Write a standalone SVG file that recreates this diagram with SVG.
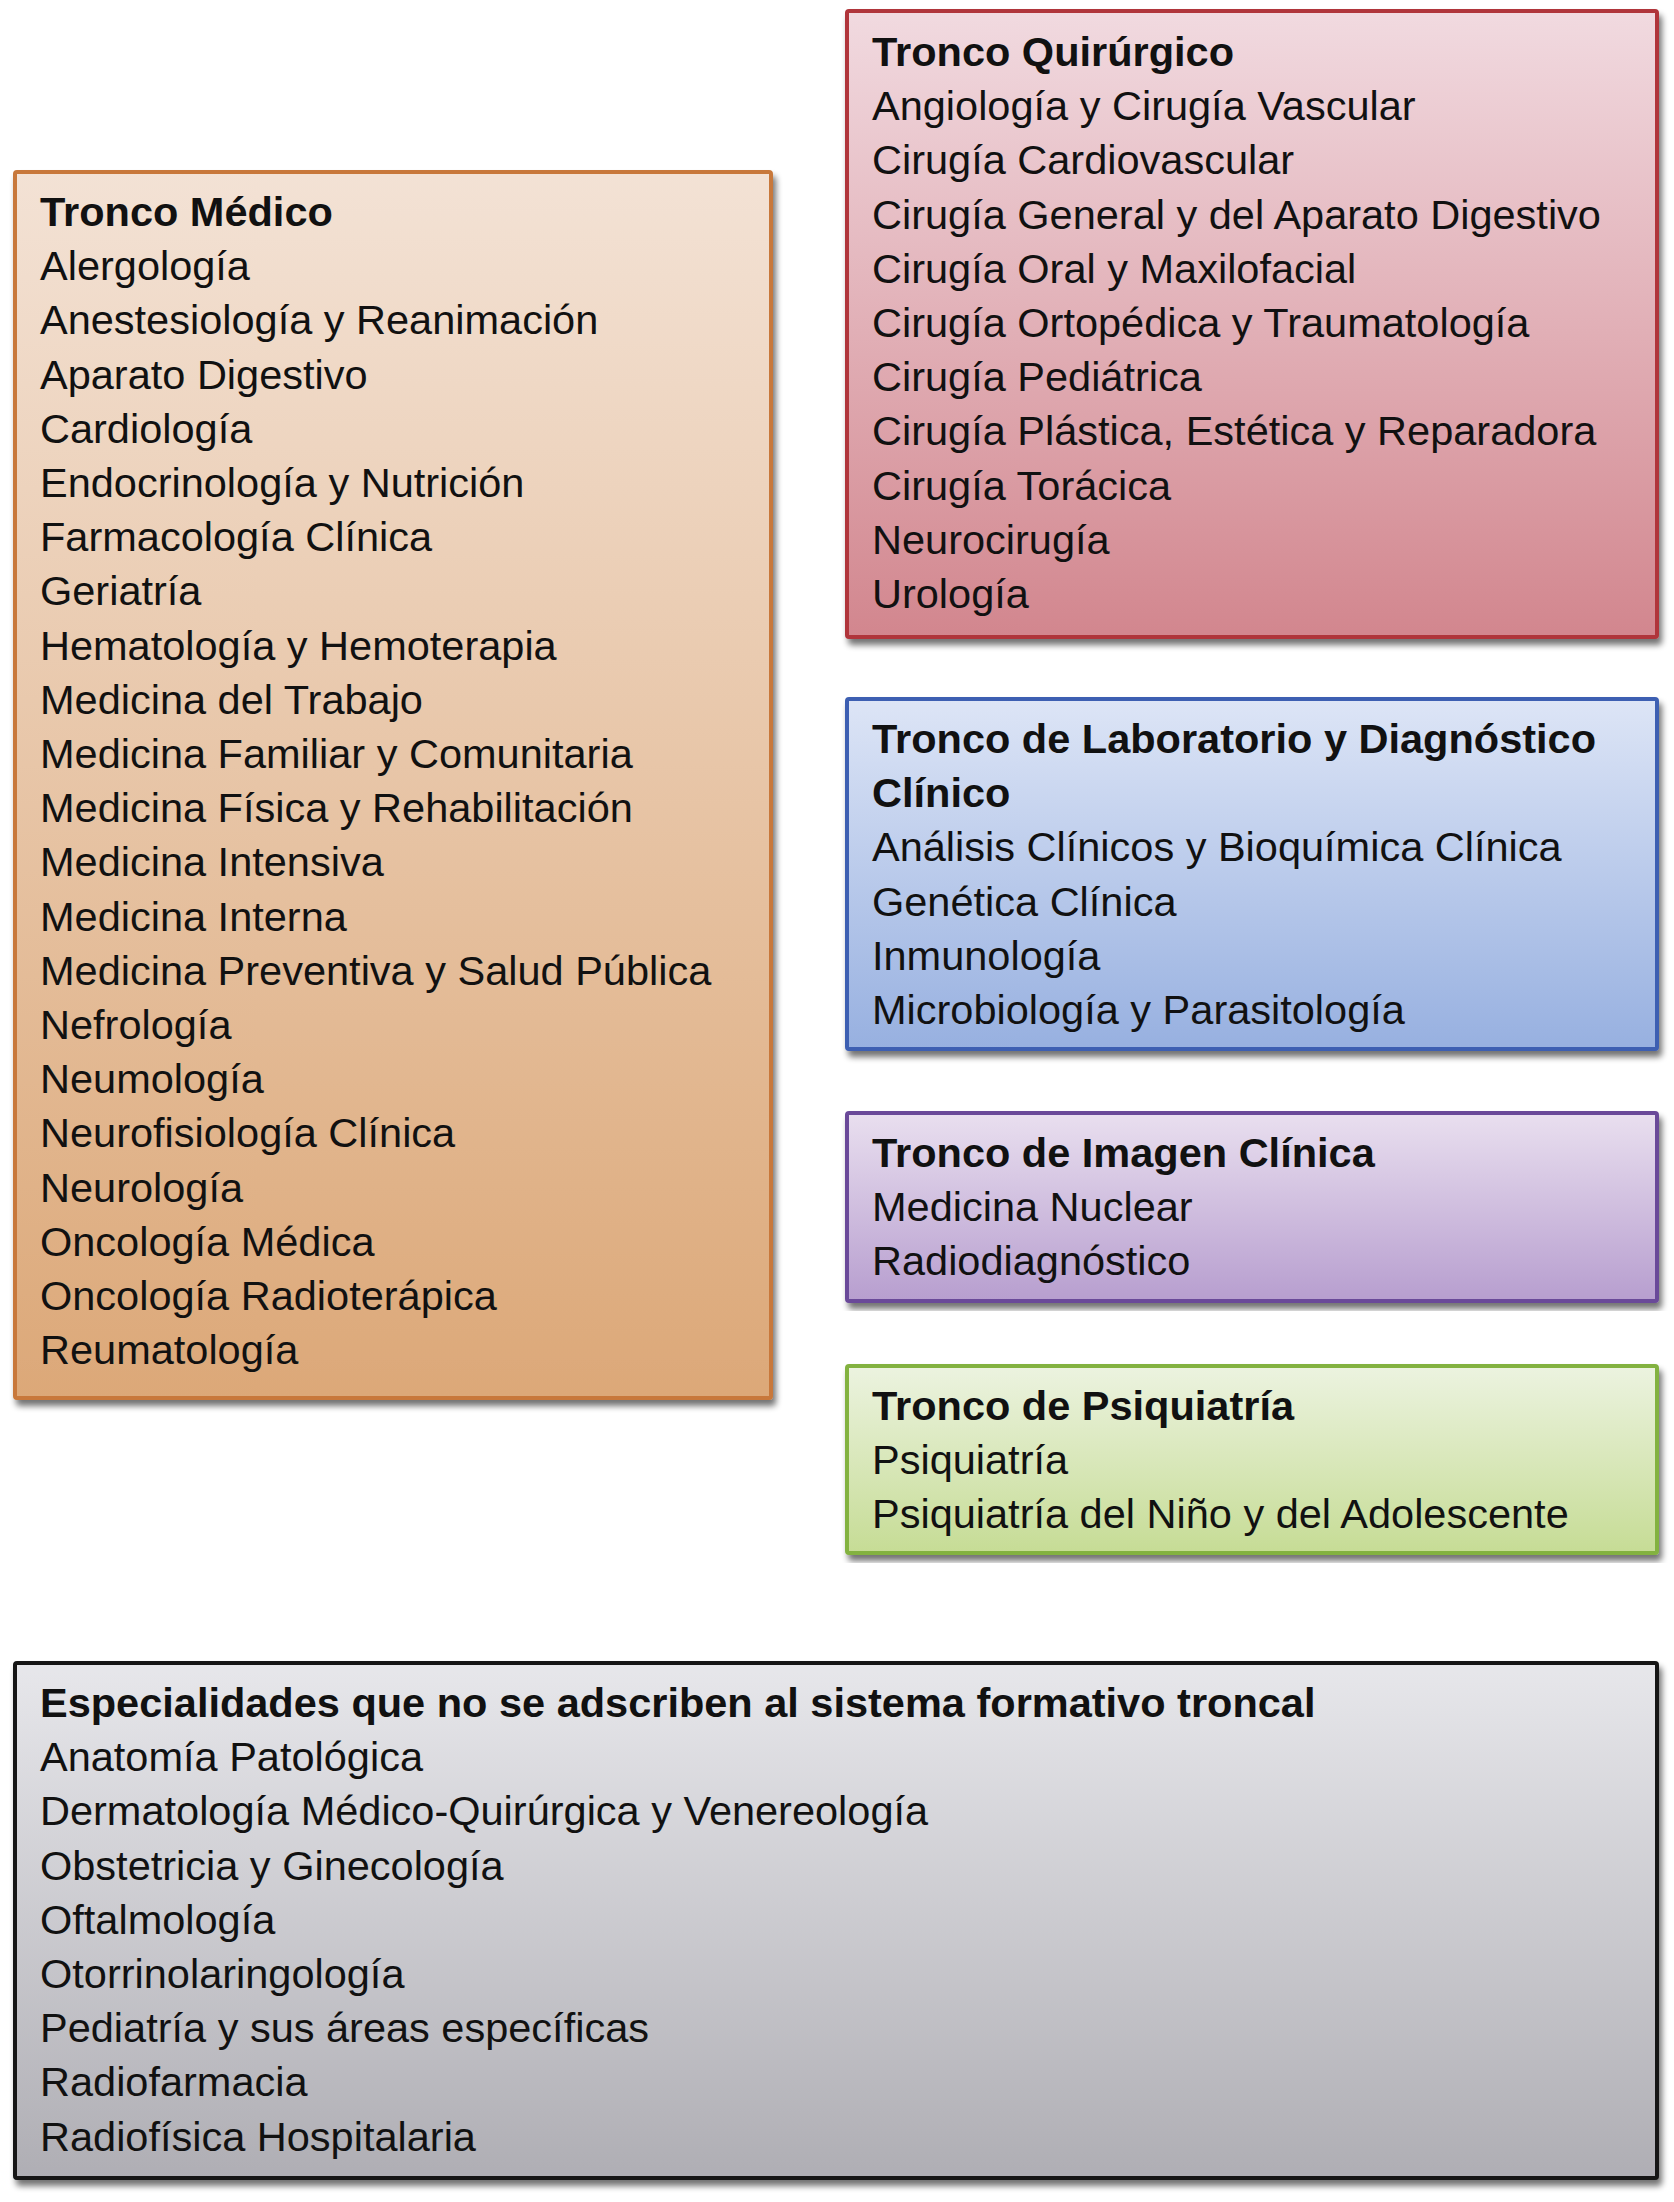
<svg xmlns="http://www.w3.org/2000/svg" width="1674" height="2202" viewBox="0 0 1674 2202">
<defs>
<filter id="sh" x="-5%" y="-5%" width="110%" height="110%">
<feGaussianBlur in="SourceAlpha" stdDeviation="3"/>
<feOffset dx="3" dy="6" result="b"/>
<feComponentTransfer><feFuncA type="linear" slope="0.55"/></feComponentTransfer>
<feMerge><feMergeNode/><feMergeNode in="SourceGraphic"/></feMerge>
</filter>
<linearGradient id="gMed" x1="0" y1="0" x2="0" y2="1"><stop offset="0" stop-color="#F3E2D5"/><stop offset="1" stop-color="#DCA878"/></linearGradient>
<linearGradient id="gQui" x1="0" y1="0" x2="0" y2="1"><stop offset="0" stop-color="#F1DAE0"/><stop offset="1" stop-color="#D2868E"/></linearGradient>
<linearGradient id="gLab" x1="0" y1="0" x2="0" y2="1"><stop offset="0" stop-color="#DDE5F6"/><stop offset="1" stop-color="#97B0E0"/></linearGradient>
<linearGradient id="gImg" x1="0" y1="0" x2="0" y2="1"><stop offset="0" stop-color="#E9DFEF"/><stop offset="1" stop-color="#B79ECF"/></linearGradient>
<linearGradient id="gPsi" x1="0" y1="0" x2="0" y2="1"><stop offset="0" stop-color="#ECF3E0"/><stop offset="1" stop-color="#C6DC95"/></linearGradient>
<linearGradient id="gGry" x1="0" y1="0" x2="0" y2="1"><stop offset="0" stop-color="#E7E7EB"/><stop offset="1" stop-color="#AFAEB4"/></linearGradient>
</defs>
<style>
.box{stroke-width:4;filter:url(#sh)}
text{font-family:"Liberation Sans",Arial,Helvetica,sans-serif;font-size:41.5px;fill:#111}
.t{font-weight:bold}
</style>
<g id="tronco-medico">
<rect class="box" x="15" y="172" width="756" height="1226" rx="2" fill="url(#gMed)" stroke="#C8783A"/>
<text x="40" y="226"><tspan class="t">Tronco Médico</tspan><tspan x="40" dy="54.2">Alergología</tspan><tspan x="40" dy="54.2">Anestesiología y Reanimación</tspan><tspan x="40" dy="54.2">Aparato Digestivo</tspan><tspan x="40" dy="54.2">Cardiología</tspan><tspan x="40" dy="54.2">Endocrinología y Nutrición</tspan><tspan x="40" dy="54.2">Farmacología Clínica</tspan><tspan x="40" dy="54.2">Geriatría</tspan><tspan x="40" dy="54.2">Hematología y Hemoterapia</tspan><tspan x="40" dy="54.2">Medicina del Trabajo</tspan><tspan x="40" dy="54.2">Medicina Familiar y Comunitaria</tspan><tspan x="40" dy="54.2">Medicina Física y Rehabilitación</tspan><tspan x="40" dy="54.2">Medicina Intensiva</tspan><tspan x="40" dy="54.2">Medicina Interna</tspan><tspan x="40" dy="54.2">Medicina Preventiva y Salud Pública</tspan><tspan x="40" dy="54.2">Nefrología</tspan><tspan x="40" dy="54.2">Neumología</tspan><tspan x="40" dy="54.2">Neurofisiología Clínica</tspan><tspan x="40" dy="54.2">Neurología</tspan><tspan x="40" dy="54.2">Oncología Médica</tspan><tspan x="40" dy="54.2">Oncología Radioterápica</tspan><tspan x="40" dy="54.2">Reumatología</tspan></text>
</g>
<g id="tronco-quirurgico">
<rect class="box" x="847" y="11" width="810" height="626" rx="2" fill="url(#gQui)" stroke="#B0353A"/>
<text x="872" y="66"><tspan class="t">Tronco Quirúrgico</tspan><tspan x="872" dy="54.2">Angiología y Cirugía Vascular</tspan><tspan x="872" dy="54.2">Cirugía Cardiovascular</tspan><tspan x="872" dy="54.2">Cirugía General y del Aparato Digestivo</tspan><tspan x="872" dy="54.2">Cirugía Oral y Maxilofacial</tspan><tspan x="872" dy="54.2">Cirugía Ortopédica y Traumatología</tspan><tspan x="872" dy="54.2">Cirugía Pediátrica</tspan><tspan x="872" dy="54.2">Cirugía Plástica, Estética y Reparadora</tspan><tspan x="872" dy="54.2">Cirugía Torácica</tspan><tspan x="872" dy="54.2">Neurocirugía</tspan><tspan x="872" dy="54.2">Urología</tspan></text>
</g>
<g id="tronco-laboratorio">
<rect class="box" x="847" y="699" width="810" height="350" rx="2" fill="url(#gLab)" stroke="#3D5EB2"/>
<text x="872" y="753"><tspan class="t">Tronco de Laboratorio y Diagnóstico</tspan><tspan class="t" x="872" dy="54.2">Clínico</tspan><tspan x="872" dy="54.2">Análisis Clínicos y Bioquímica Clínica</tspan><tspan x="872" dy="54.2">Genética Clínica</tspan><tspan x="872" dy="54.2">Inmunología</tspan><tspan x="872" dy="54.2">Microbiología y Parasitología</tspan></text>
</g>
<g id="tronco-imagen">
<rect class="box" x="847" y="1113" width="810" height="188" rx="2" fill="url(#gImg)" stroke="#6B4A99"/>
<text x="872" y="1167"><tspan class="t">Tronco de Imagen Clínica</tspan><tspan x="872" dy="54.2">Medicina Nuclear</tspan><tspan x="872" dy="54.2">Radiodiagnóstico</tspan></text>
</g>
<g id="tronco-psiquiatria">
<rect class="box" x="847" y="1366" width="810" height="187" rx="2" fill="url(#gPsi)" stroke="#83B23F"/>
<text x="872" y="1420"><tspan class="t">Tronco de Psiquiatría</tspan><tspan x="872" dy="54.2">Psiquiatría</tspan><tspan x="872" dy="54.2">Psiquiatría del Niño y del Adolescente</tspan></text>
</g>
<g id="no-troncales">
<rect class="box" x="15" y="1663" width="1642" height="515" rx="2" fill="url(#gGry)" stroke="#141414"/>
<text x="40" y="1717"><tspan class="t">Especialidades que no se adscriben al sistema formativo troncal</tspan><tspan x="40" dy="54.2">Anatomía Patológica</tspan><tspan x="40" dy="54.2">Dermatología Médico-Quirúrgica y Venereología</tspan><tspan x="40" dy="54.2">Obstetricia y Ginecología</tspan><tspan x="40" dy="54.2">Oftalmología</tspan><tspan x="40" dy="54.2">Otorrinolaringología</tspan><tspan x="40" dy="54.2">Pediatría y sus áreas específicas</tspan><tspan x="40" dy="54.2">Radiofarmacia</tspan><tspan x="40" dy="54.2">Radiofísica Hospitalaria</tspan></text>
</g>
<g id="connectors"/>
</svg>
